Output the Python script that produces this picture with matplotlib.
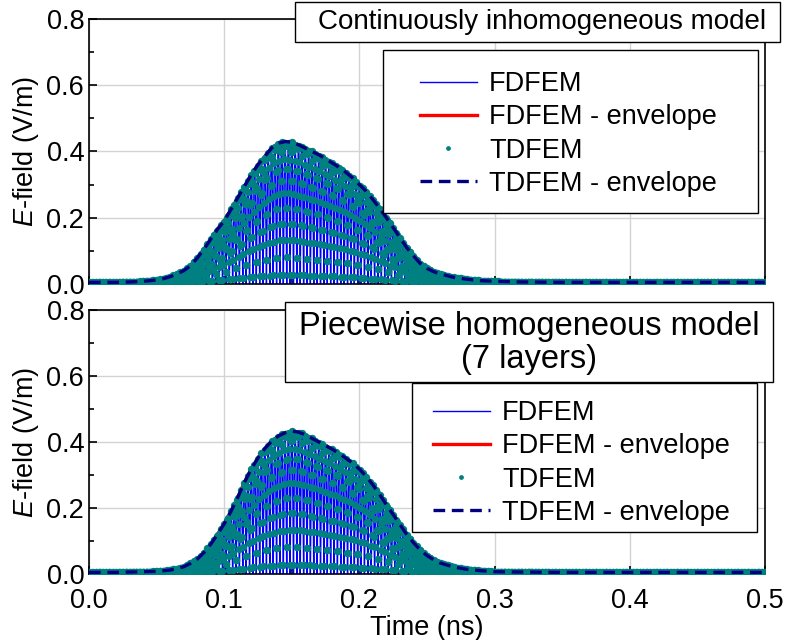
import numpy as np
import matplotlib
matplotlib.use("Agg")
import matplotlib.pyplot as plt
from matplotlib.patches import Rectangle

plt.rcParams['font.family'] = ['Liberation Sans', 'DejaVu Sans']
plt.rcParams['font.size'] = 19.5
plt.rcParams['mathtext.fontset'] = 'custom'
plt.rcParams['mathtext.it'] = 'Liberation Sans:italic'
plt.rcParams['mathtext.rm'] = 'Liberation Sans'

# envelope (time in ns, field in V/m)
t_env = [0.00, 0.01, 0.02, 0.03, 0.04, 0.05, 0.055, 0.06, 0.065, 0.07, 0.075,
         0.08, 0.085, 0.09, 0.095, 0.10, 0.105, 0.11, 0.115, 0.12, 0.125,
         0.13, 0.135, 0.14, 0.145, 0.15, 0.155, 0.16, 0.165, 0.17, 0.175,
         0.18, 0.185, 0.19, 0.195, 0.20, 0.205, 0.21, 0.215, 0.22, 0.225,
         0.23, 0.235, 0.24, 0.245, 0.25, 0.255, 0.26, 0.27, 0.28, 0.29,
         0.30, 0.32, 0.35, 0.40, 0.45, 0.50]

env_top = [0.005, 0.005, 0.005, 0.006, 0.008, 0.012, 0.016, 0.022, 0.030, 0.040, 0.055,
           0.078, 0.105, 0.135, 0.165, 0.190, 0.225, 0.260, 0.295, 0.330, 0.360,
           0.385, 0.410, 0.425, 0.430, 0.428, 0.420, 0.410, 0.400, 0.390, 0.378,
           0.365, 0.352, 0.337, 0.320, 0.300, 0.280, 0.255, 0.228, 0.200, 0.170,
           0.140, 0.110, 0.085, 0.062, 0.047, 0.037, 0.030, 0.020, 0.014, 0.010,
           0.008, 0.006, 0.005, 0.005, 0.005, 0.005]

env_bot = [0.005, 0.005, 0.005, 0.006, 0.007, 0.008, 0.010, 0.012, 0.016, 0.022, 0.032,
           0.045, 0.065, 0.090, 0.120, 0.152, 0.190, 0.232, 0.278, 0.318, 0.352,
           0.380, 0.402, 0.418, 0.428, 0.433, 0.430, 0.422, 0.411, 0.400, 0.389,
           0.378, 0.365, 0.351, 0.336, 0.318, 0.296, 0.270, 0.241, 0.210, 0.180,
           0.150, 0.120, 0.095, 0.073, 0.056, 0.043, 0.033, 0.021, 0.014, 0.010,
           0.007, 0.006, 0.005, 0.005, 0.005, 0.005]

f_carrier = 200.0   # GHz
dt_fd = 0.00005     # ns, FDFEM time step
dt_td = 0.0003      # ns, TDFEM sampling

titles = ["Continuously inhomogeneous model", "Piecewise homogeneous model\n(7 layers)"]
labels = ["FDFEM", "FDFEM - envelope", "TDFEM", "TDFEM - envelope"]

W, H = 785, 640


def px_rect(x0, y0, x1, y1, z):
    return Rectangle((x0 / W, 1 - y1 / H), (x1 - x0) / W, (y1 - y0) / H,
                     transform=fig.transFigure, fc='white', ec='black', lw=1.0, zorder=z)


fig = plt.figure(figsize=(7.85, 6.4), dpi=100)
ax_top = fig.add_axes([0.1134, 0.5563, 0.861, 0.414])
ax_bot = fig.add_axes([0.1134, 0.1031, 0.861, 0.4125])

t_fd = np.arange(0, 0.5 + dt_fd, dt_fd)
t_td = np.arange(0, 0.5 + dt_td, dt_td)

for ax, env in [(ax_top, env_top), (ax_bot, env_bot)]:
    e_fd = np.interp(t_fd, t_env, env) * np.abs(np.cos(2 * np.pi * f_carrier * t_fd))
    e_td = np.interp(t_td, t_env, env) * np.abs(np.cos(2 * np.pi * f_carrier * t_td))
    ax.plot(t_fd, e_fd, color='#0000ff', lw=1.0, label=labels[0], zorder=2)
    ax.plot(t_env, env, color='#ff0000', lw=2.4, label=labels[1], zorder=3)
    ax.plot(t_td, e_td, 'o', color='#008080', ms=5.3, mew=0, label=labels[2], zorder=4)
    ax.plot(t_env, env, color='#000080', lw=2.4, ls=(0, (3.5, 2)), label=labels[3], zorder=5)

    ax.set_xlim(0, 0.5)
    ax.set_ylim(0, 0.8)
    ax.set_xticks(np.arange(0, 0.51, 0.1))
    ax.set_xticks(np.arange(0, 0.51, 0.05), minor=True)
    ax.set_yticks(np.arange(0, 0.81, 0.2))
    ax.set_yticks(np.arange(0, 0.81, 0.1), minor=True)
    ax.xaxis.set_major_formatter(matplotlib.ticker.FormatStrFormatter('%.1f'))
    ax.yaxis.set_major_formatter(matplotlib.ticker.FormatStrFormatter('%.1f'))
    ax.tick_params(which='major', direction='in', length=6, width=1.2)
    ax.tick_params(which='minor', direction='in', length=3.5, width=1.2)
    ax.tick_params(axis='x', pad=10)
    ax.grid(True, which='major', color='#d3d3d3', lw=1.0)
    ax.set_axisbelow(True)
    for s in ax.spines.values():
        s.set_linewidth(1.2)
    ax.set_ylabel(r'$\it{E}$-field (V/m)', labelpad=4)

ax_top.tick_params(labelbottom=False)
ax_bot.set_xlabel('Time (ns)', labelpad=1)

# boxes behind the legends and the model titles
fig.add_artist(px_rect(383, 50, 758, 213, 5))
fig.add_artist(px_rect(412, 383, 757, 532, 5))
fig.add_artist(px_rect(295, 2, 780, 42, 5))
fig.add_artist(px_rect(285, 302, 773, 382, 5))

handles, _ = ax_top.get_legend_handles_labels()
leg_kw = dict(loc='upper left', bbox_transform=fig.transFigure, borderaxespad=0,
              borderpad=0, frameon=False, handlelength=2.1, handletextpad=0.45,
              labelspacing=0.27, markerscale=0.65)
leg1 = fig.legend(handles, labels, bbox_to_anchor=(420 / W, 1 - 71 / H), **leg_kw)
leg2 = fig.legend(handles, labels, bbox_to_anchor=(433 / W, 1 - 400 / H), **leg_kw)
leg1.set_zorder(6)
leg2.set_zorder(6)

fig.text(542 / W, 1 - 22 / H, titles[0], ha='center', va='center', fontsize=20, zorder=7)
fig.text(529 / W, 1 - 343 / H, titles[1], ha='center', va='center', fontsize=23.5,
         multialignment='center', linespacing=1.05, zorder=7)

fig.savefig('out.png', dpi=100)
